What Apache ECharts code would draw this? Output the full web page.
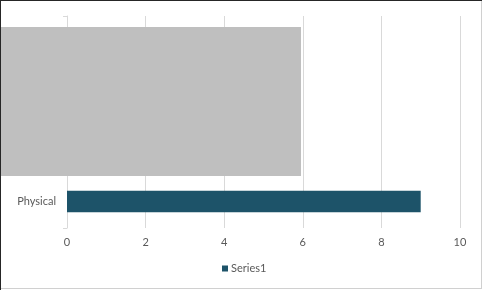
<!DOCTYPE html>
<html>
<head>
<meta charset="utf-8">
<script src="https://cdn.jsdelivr.net/npm/echarts@6/dist/echarts.min.js"></script>
<style>
  html, body { margin: 0; padding: 0; background: #fff; }
  #frame { position: absolute; left: 0; top: 0; width: 482px; height: 290px; box-sizing: border-box; border-top: 1px solid #262626; border-left: 1px solid #262626; }
  #inner { position: absolute; left: 0; top: 0; width: 481px; height: 288px; box-sizing: border-box; border-right: 1px solid #d0d0d0; border-bottom: 1px solid #d0d0d0; }
  #chart { position: absolute; left: 0; top: 0; width: 482px; height: 290px; }
</style>
</head>
<body>
<div id="chart"></div>
<div id="frame"><div id="inner"></div></div>
<script>
// Categories bottom-to-top; upper three are hidden behind a grey box in the reference
const categories = ['Physical', '', '', ''];
const series1 = [9, null, null, null];
const xTicks = { min: 0, max: 10, interval: 2 };
const seriesName = 'Series1';

const chart = echarts.init(document.getElementById('chart'));
chart.setOption({
  animation: false,
  textStyle: { fontFamily: 'Lato, "Open Sans", sans-serif' },
  grid: { left: 67, right: 22, top: 16, bottom: 62, containLabel: false },
  legend: {
    data: [seriesName],
    bottom: 11,
    left: 217,
    itemWidth: 6,
    itemHeight: 6,
    itemGap: 4,
    icon: 'rect',
    textStyle: { color: '#595959', fontSize: 11, padding: [0, 0, 0, -2] }
  },
  xAxis: {
    type: 'value',
    min: xTicks.min,
    max: xTicks.max,
    interval: xTicks.interval,
    axisLine: { show: false },
    axisTick: { show: false },
    axisLabel: { color: '#595959', fontSize: 11, margin: 9 },
    splitLine: { show: true, lineStyle: { color: '#d9d9d9', width: 1 } }
  },
  yAxis: {
    type: 'category',
    data: categories,
    axisLine: { show: true, lineStyle: { color: '#d9d9d9' } },
    axisTick: { show: true, length: 4, lineStyle: { color: '#d9d9d9' } },
    axisLabel: { color: '#595959', fontSize: 11, margin: 11 },
    splitLine: { show: false }
  },
  series: [{
    name: seriesName,
    type: 'bar',
    data: series1,
    barWidth: '41%',
    itemStyle: { color: '#1d5369' }
  }],
  graphic: [{
    type: 'rect',
    left: 0, top: 27,
    shape: { width: 301, height: 149 },
    style: { fill: '#bfbfbf' },
    z: 100
  }]
});
</script>
</body>
</html>
